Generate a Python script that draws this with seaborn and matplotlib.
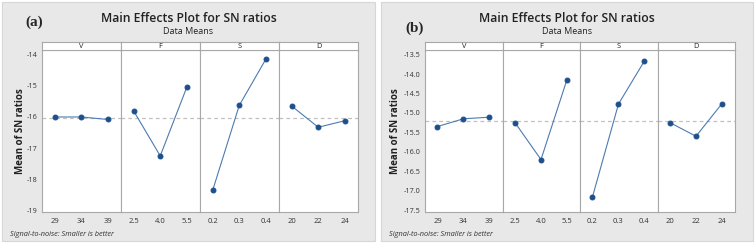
import matplotlib.pyplot as plt
import matplotlib.patches as mpatches
import seaborn as sns
import numpy as np
import pandas as pd

# factors and their levels
factors = ['V', 'F', 'S', 'D']
levels_V = ['29', '34', '39']
levels_F = ['2.5', '4.0', '5.5']
levels_S = ['0.2', '0.3', '0.4']
levels_D = ['20', '22', '24']

# SN ratio means, chart (a)
sn_a_V = [-16.00, -16.00, -16.08]
sn_a_F = [-15.81, -17.25, -15.05]
sn_a_S = [-18.35, -15.63, -14.15]
sn_a_D = [-15.65, -16.33, -16.12]

# SN ratio means, chart (b)
sn_b_V = [-15.35, -15.15, -15.11]
sn_b_F = [-15.25, -16.20, -14.14]
sn_b_S = [-17.16, -14.77, -13.66]
sn_b_D = [-15.25, -15.60, -14.76]

yticks_a = [-19, -18, -17, -16, -15, -14]
yticks_b = [-17.5, -17.0, -16.5, -16.0, -15.5, -15.0, -14.5, -14.0, -13.5]

sns.set_style('white')
plt.rcParams['font.family'] = ['Open Sans', 'DejaVu Sans']
plt.rcParams['axes.unicode_minus'] = False

W, H = 756, 245
fig = plt.figure(figsize=(W / 100, H / 100), dpi=100)

line_col = '#4d7bb0'
dot_col = '#1d4f8c'
edge_col = '#a8a8a8'


def fx(px):
    return px / W


def fy(py):
    return 1 - py / H


def draw_panel(p0, p1, ax0, ax1, tag, tag_x, tag_y, ylab_x, levels, values, yticks, ylim, fmt):
    # grey panel background
    fig.patches.append(mpatches.Rectangle((fx(p0), fy(241)), fx(p1 - p0), fy(2) - fy(241),
                                          transform=fig.transFigure, facecolor='#e8e8e8',
                                          edgecolor='#d6d6d6', linewidth=0.8, zorder=-5))
    cx = fx((p0 + p1) / 2)
    fig.text(cx, fy(18), 'Main Effects Plot for SN ratios', ha='center', va='center',
             fontsize=8.8, fontweight='semibold', color='#222222')
    fig.text(cx, fy(32), 'Data Means', ha='center', va='center', fontsize=6.5, color='#222222')
    fig.text(fx(tag_x), fy(tag_y), tag, ha='left', va='center', fontsize=11,
             fontweight='bold', family='Liberation Serif')
    fig.text(fx(ylab_x), fy(131), 'Mean of SN ratios', rotation=90, ha='center', va='center',
             fontsize=7, fontweight='bold', color='#222222')
    fig.text(fx(p0 + 8), fy(234), 'Signal-to-noise: Smaller is better', ha='left', va='center',
             fontsize=5.3, style='italic', color='#333333')

    grand = np.mean(np.concatenate(values))
    fw = (ax1 - ax0) / 4
    for i, (fac, lev, val) in enumerate(zip(factors, levels, values)):
        ax = fig.add_axes([fx(ax0 + i * fw), fy(212), fx(fw), fy(50) - fy(212)])
        df = pd.DataFrame({'level': lev, 'sn': val})
        sns.lineplot(data=df, x='level', y='sn', ax=ax, color=line_col, linewidth=0.8,
                     marker='o', markersize=3.5, markerfacecolor=dot_col,
                     markeredgecolor=dot_col, sort=False)
        ax.axhline(grand, color='#c0c0c0', linestyle=(0, (3, 2.5)), linewidth=0.9, zorder=0)
        ax.set_xlim(-0.48, 2.5)
        ax.set_ylim(*ylim)
        ax.set_xlabel('')
        ax.set_ylabel('')
        for s in ax.spines.values():
            s.set_color(edge_col)
            s.set_linewidth(0.8)
        ax.tick_params(axis='x', labelsize=5.5, colors='#333333', length=2, width=0.5,
                       color=edge_col, pad=2)
        if i == 0:
            ax.set_yticks(yticks)
            ax.set_yticklabels([fmt.format(t) for t in yticks])
            ax.tick_params(axis='y', labelsize=5.2, colors='#333333', length=2, width=0.5,
                           color=edge_col, pad=1.5)
        else:
            ax.set_yticks(yticks)
            ax.tick_params(axis='y', left=False, labelleft=False)
        # facet strip
        st = fig.add_axes([fx(ax0 + i * fw), fy(50), fx(fw), fy(42) - fy(50)])
        st.set_xticks([])
        st.set_yticks([])
        st.set_facecolor('white')
        for s in st.spines.values():
            s.set_color(edge_col)
            s.set_linewidth(0.8)
        st.text(0.5, 0.45, fac, ha='center', va='center', fontsize=5.3, color='#222222',
                transform=st.transAxes)


draw_panel(2, 375, 42, 358, '(a)', 25, 22, 21, [levels_V, levels_F, levels_S, levels_D],
           [sn_a_V, sn_a_F, sn_a_S, sn_a_D], yticks_a, (-19.05, -13.85), '{:.0f}')
draw_panel(381, 753, 425, 735, '(b)', 405, 28, 396, [levels_V, levels_F, levels_S, levels_D],
           [sn_b_V, sn_b_F, sn_b_S, sn_b_D], yticks_b, (-17.55, -13.38), '{:.1f}')

fig.savefig('out.png', dpi=100)
